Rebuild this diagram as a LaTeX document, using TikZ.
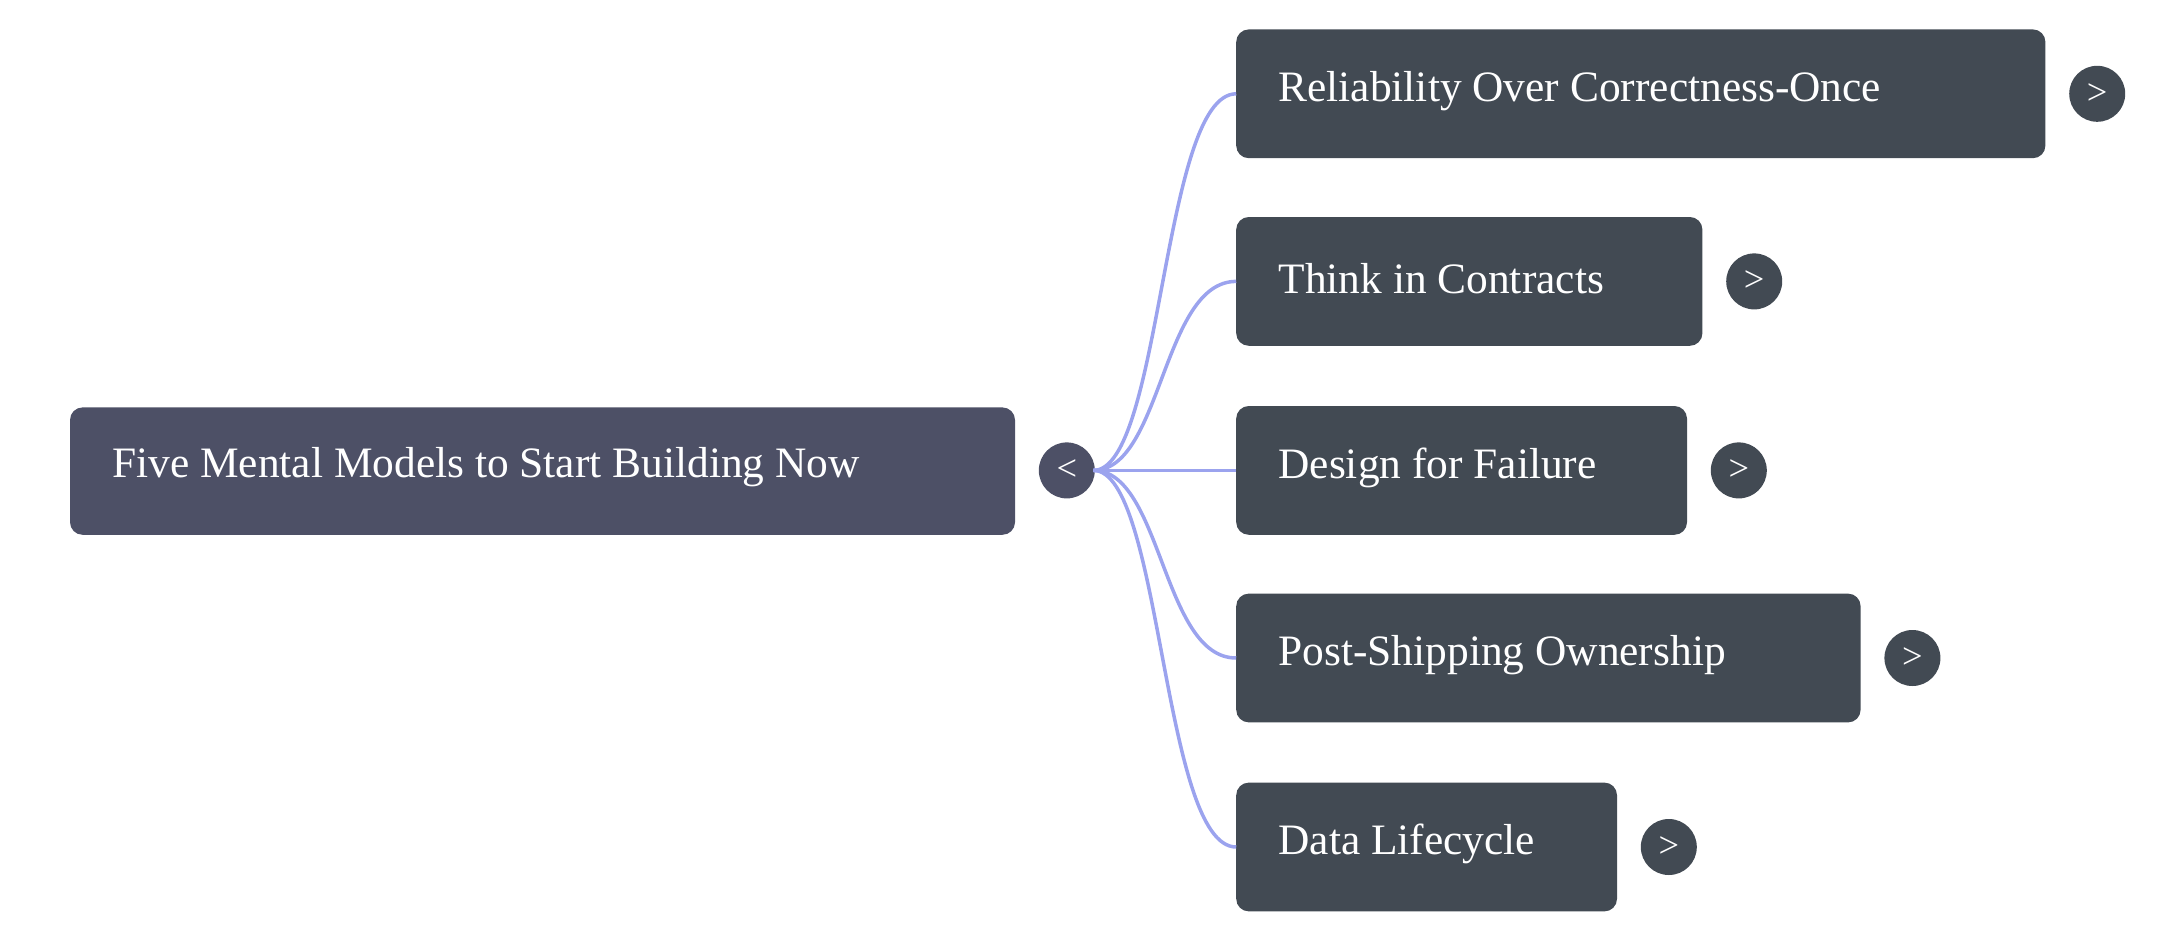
\documentclass[tikz,border=0pt]{standalone}
\usepackage{fontspec}
\setmainfont{Liberation Serif}
\definecolor{rootc}{HTML}{4D5066}
\definecolor{boxc}{HTML}{424A53}
\definecolor{edgec}{HTML}{9BA3EE}
\begin{document}
\begin{tikzpicture}[x=1pt,y=-1pt,
  box/.style={fill=boxc,rounded corners=9pt,draw=none},
  lbl/.style={anchor=west,text=white,font=\fontsize{31}{36}\selectfont,inner sep=0pt},
  btn/.style={circle,fill=boxc,minimum size=40pt,inner sep=0pt,text=white,font=\fontsize{26}{30}\selectfont},
  edge/.style={draw=edgec,line width=2.5pt}]
\useasboundingbox (0,0) rectangle (1560,669);
\fill[rootc,rounded corners=9pt] (50,291) rectangle (725,382);
\node[lbl] (root) at (80,334) {Five Mental Models to Start Building Now};
\node[btn,fill=rootc] (rb) at (762,336) {<};
\coordinate (o) at (781,336);
\foreach \y/\r/\t/\n in {67/1461/Reliability Over Correctness-Once/a,201/1216/Think in Contracts/b,336/1205/Design for Failure/c,470/1329/Post-Shipping Ownership/d,605/1155/Data Lifecycle/e}{
  \fill[boxc,rounded corners=9pt] (883,\y-46) rectangle (\r,\y+46);
  \node[lbl] (t\n) at (913,\y-2) {\t};
  \node[btn] (c\n) at (\r+37,\y) {>};
  \coordinate (e\n) at (883,\y);
  \draw[edge] (o) .. controls (830,336) and (830,\y) .. (e\n);
}
\end{tikzpicture}
\end{document}
